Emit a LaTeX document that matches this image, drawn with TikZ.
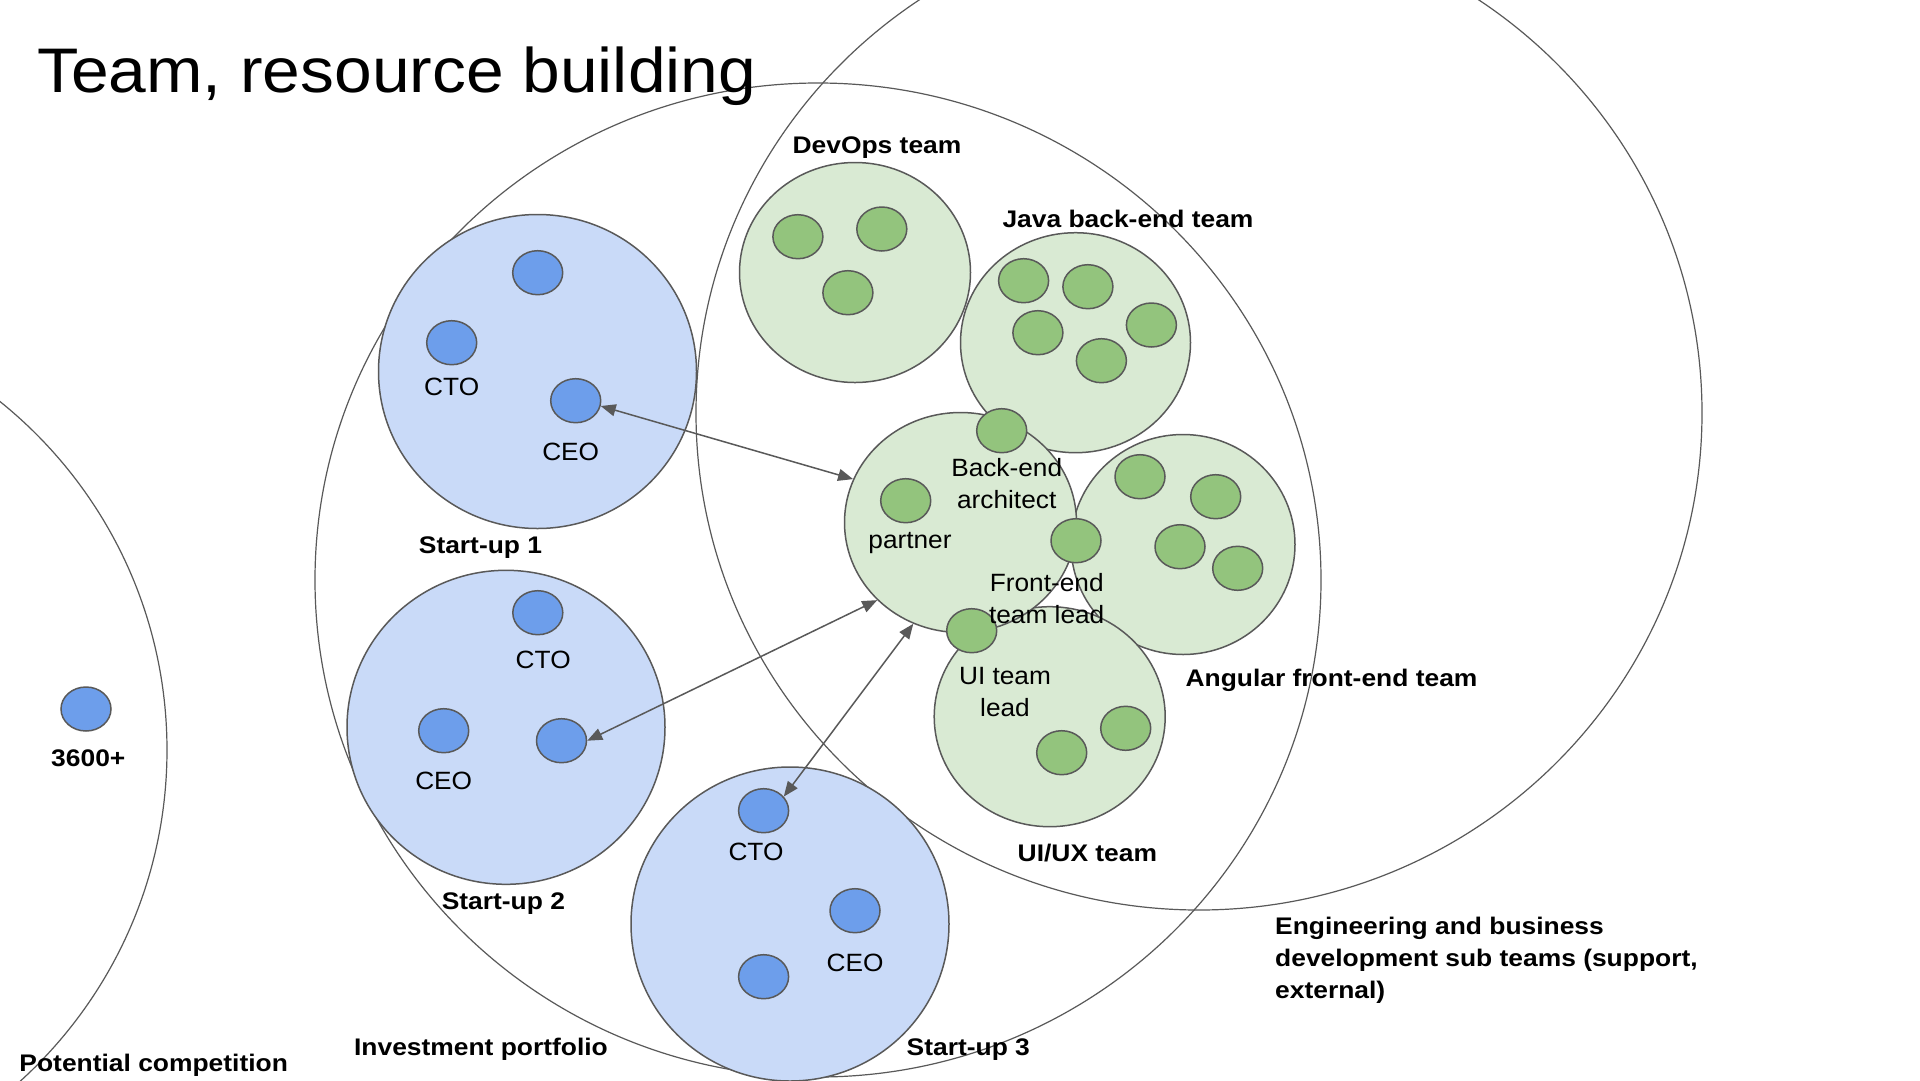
\documentclass[tikz,border=0pt]{standalone}
\usepackage{fontspec}
\setmainfont{Liberation Sans}
\newfontfamily\titlefont[FakeStretch=1.075]{Liberation Sans}
\newfontfamily\lblfont[FakeStretch=1.05]{Liberation Sans}
\newfontfamily\bldfont[FakeStretch=1.1]{Liberation Sans}
\usetikzlibrary{shapes.geometric,arrows.meta}
\definecolor{edge}{HTML}{595959}
\definecolor{blueB}{HTML}{C9DAF8}
\definecolor{blueS}{HTML}{6D9EEB}
\definecolor{greenB}{HTML}{D9EAD3}
\definecolor{greenS}{HTML}{93C47D}
\begin{document}
\begin{tikzpicture}[x=1pt,y=-1pt,
  ring/.style={ellipse,draw=edge,line width=1.2pt,inner sep=0pt},
  bluegroup/.style={ellipse,draw=edge,fill=blueB,line width=1.5pt,inner sep=0pt,
    minimum width=318pt,minimum height=314pt},
  greengroup/.style={ellipse,draw=edge,fill=greenB,line width=1.5pt,inner sep=0pt,
    minimum width=231pt,minimum height=220pt},
  person/.style={ellipse,draw=edge,fill=blueS,line width=1.5pt,inner sep=0pt,
    minimum width=50pt,minimum height=44pt},
  member/.style={ellipse,draw=edge,fill=greenS,line width=1.5pt,inner sep=0pt,
    minimum width=50pt,minimum height=44pt},
  lbl/.style={font=\lblfont\fontsize{25}{32}\selectfont,align=center,inner sep=0pt,yshift=-1.5pt},
  hdr/.style={font=\bldfont\bfseries\fontsize{24}{32}\selectfont,align=center,inner sep=0pt,yshift=-2.5pt},
  link/.style={draw=edge,line width=1.5pt,
    {Triangle[length=15pt,width=12pt]}-{Triangle[length=15pt,width=12pt]}}
]
\useasboundingbox[fill=white] (0,0) rectangle (1920,1080);

% outer rings
\node[ring,minimum width=894pt,minimum height=894pt] (compet) at (-280,750) {};
\node[ring,minimum width=1006pt,minimum height=994pt] (invest) at (818,580) {};
\node[ring,minimum width=1006pt,minimum height=994pt] (eng) at (1199,413) {};

% start-ups
\node[bluegroup] (su1) at (537.5,371.5) {};
\node[bluegroup] (su2) at (506,727.3) {};
\node[bluegroup] (su3) at (790,924) {};

% engineering teams
\node[greengroup] (devops) at (855,272.5) {};
\node[greengroup,minimum width=230pt] (java) at (1075.5,342.7) {};
\node[greengroup,minimum width=224pt] (angular) at (1183,544.5) {};
\node[greengroup] (uiux) at (1049.7,716.7) {};
\node[greengroup,minimum width=232pt] (core) at (960.5,522.5) {};

% people in the start-ups
\node[person] (s1a) at (537.7,272.7) {};
\node[person] (s1cto) at (451.7,342.7) {};
\node[person] (s1ceo) at (575.7,400.7) {};
\node[person] (s2cto) at (537.8,612.7) {};
\node[person] (s2ceo) at (443.7,730.7) {};
\node[person] (s2b) at (561.5,740.7) {};
\node[person] (s3cto) at (763.6,810.7) {};
\node[person] (s3ceo) at (855,910.7) {};
\node[person] (s3b) at (763.6,976.7) {};
\node[person] (comp) at (86,709) {};

% team members
\node[member] (d1) at (797.9,236.7) {};
\node[member] (d2) at (881.8,229) {};
\node[member] (d3) at (847.9,292.7) {};
\node[member] (j1) at (1023.6,280.7) {};
\node[member] (j2) at (1087.9,286.7) {};
\node[member] (j3) at (1037.9,332.7) {};
\node[member] (j4) at (1151.4,325) {};
\node[member] (j5) at (1101.4,360.7) {};
\node[member] (a1) at (1140,476.7) {};
\node[member] (a2) at (1215.7,496.7) {};
\node[member] (a3) at (1180,546.7) {};
\node[member] (a4) at (1237.7,568.3) {};
\node[member] (u1) at (1061.7,752.7) {};
\node[member] (u2) at (1125.7,728.3) {};
\node[member] (arch) at (1001.7,430.7) {};
\node[member] (partner) at (905.7,500.7) {};
\node[member] (felead) at (1076,540.7) {};
\node[member] (uilead) at (971.7,630.7) {};

% title
\node[anchor=base west,inner sep=0pt,font=\titlefont\fontsize{63}{70}\selectfont] (title)
  at (37,92) {Team, resource building};

% role labels
\node[lbl] (l1cto) at (451.7,385) {CTO};
\node[lbl] (l1ceo) at (570.7,450) {CEO};
\node[lbl] (l2cto) at (543.2,658.3) {CTO};
\node[lbl] (l2ceo) at (443.7,779.3) {CEO};
\node[lbl] (l3cto) at (756,850) {CTO};
\node[lbl] (l3ceo) at (855,961.7) {CEO};
\node[lbl] (larch) at (1006.7,482) {Back-end\\architect};
\node[lbl] (lpartner) at (910,542) {partner};
\node[lbl] (lfelead) at (1046.7,597) {Front-end\\team lead};
\node[lbl] (luilead) at (1005,691) {UI team\\lead};

% group labels
\node[hdr] (ldevops) at (877,145) {DevOps team};
\node[hdr] (ljava) at (1128,216.7) {Java back-end team};
\node[hdr] (langular) at (1331.5,678) {Angular front-end team};
\node[hdr] (luiux) at (1087.4,851) {UI/UX team};
\node[hdr] (lsu1) at (480.5,545) {Start-up 1};
\node[hdr] (lsu2) at (503.4,901.5) {Start-up 2};
\node[hdr] (lsu3) at (968.3,1046.7) {Start-up 3};
\node[hdr] (linvest) at (481,1047) {Investment portfolio};
\node[hdr] (lcompet) at (153.7,1063) {Potential competition};
\node[hdr] (lcomp) at (88.3,756) {3600+};
\node[hdr,align=left,anchor=west,yshift=1.5pt] (leng) at (1275,959)
  {Engineering and business\\development sub teams (support,\\external)};

% links between start-up leads and the core team
\draw[link] (s1ceo.-12) -- (core.158);
\draw[link] (s2b.east) -- (core.223);
\draw[link] (s3cto.35) -- (core.245);
\end{tikzpicture}
\end{document}
